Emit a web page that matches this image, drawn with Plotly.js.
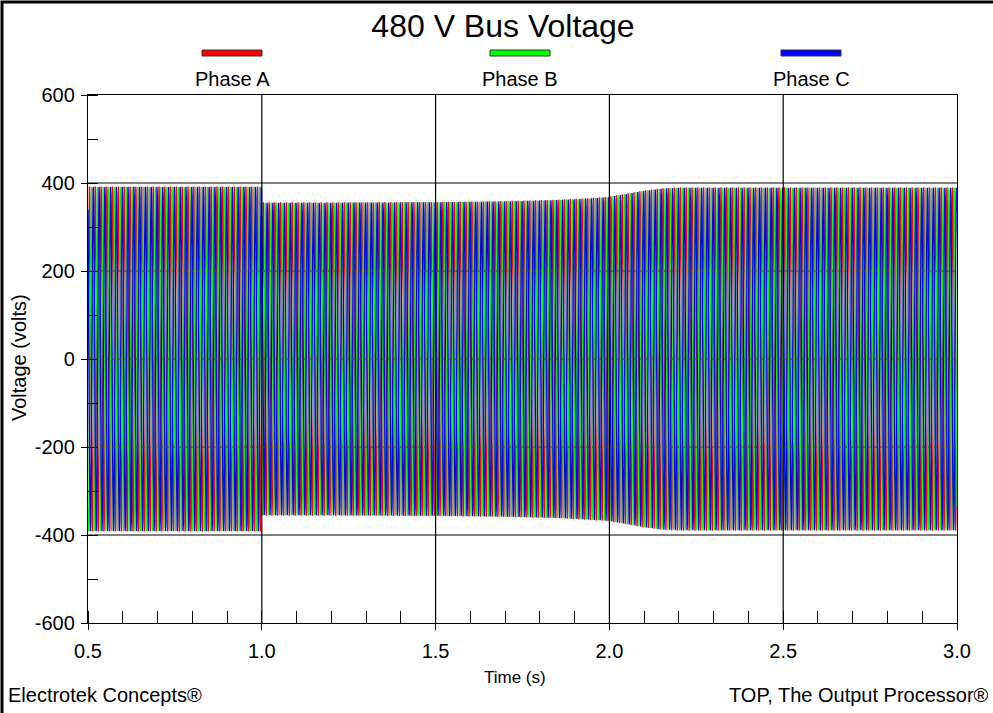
<!DOCTYPE html>
<html>
<head>
<meta charset="utf-8">
<script src="https://cdn.plot.ly/plotly-3.0.1.min.js"></script>
<style>html,body{margin:0;padding:0;background:#fff;}#chart{width:993px;height:713px;}</style>
</head>
<body>
<div id="chart"></div>
<script>
// ---- data ----
const seriesNames = ["Phase A", "Phase B", "Phase C"];
const seriesColors = ["#ff0000", "#00ff00", "#0000ff"];
const phaseShiftDeg = [0, -120, 120];
const frequencyHz = 60;
// peak-voltage envelope (volts)
const envTime = [0.5, 0.999, 1.0, 1.2, 1.5, 1.7, 1.85, 1.95, 2.0, 2.05, 2.1, 2.15, 2.2, 2.5, 3.0];
const envPeak = [392, 392, 356, 356, 357, 359, 362, 366, 369, 376, 383, 388, 390, 390, 390];
const xTickLabels = ["0.5", "1.0", "1.5", "2.0", "2.5", "3.0"];
const yTickLabels = ["-600", "-400", "-200", "0", "200", "400", "600"];

const FONT = "Liberation Sans, Arial, sans-serif";
const W = 993, H = 713;
const L = 88, R = 36, T = 95, B = 90;
const PW = W - L - R, PH = H - T - B;
const px = v => (v - L) / PW;
const py = v => (H - B - v) / PH;

function envelopeAt(t) {
  for (let i = 0; i < envTime.length - 1; i++) {
    if (t >= envTime[i] && t <= envTime[i + 1]) {
      const f = (t - envTime[i]) / (envTime[i + 1] - envTime[i]);
      return envPeak[i] + f * (envPeak[i + 1] - envPeak[i]);
    }
  }
  return envPeak[envPeak.length - 1];
}

const samplesPerCycle = 32;
const t0 = envTime[0], t1 = envTime[envTime.length - 1];
const nPts = Math.round((t1 - t0) * frequencyHz * samplesPerCycle) + 1;
const traces = seriesNames.map((name, k) => {
  const x = [], y = [];
  for (let i = 0; i < nPts; i++) {
    const t = t0 + (t1 - t0) * i / (nPts - 1);
    x.push(t);
    y.push(envelopeAt(t) * Math.sin(2 * Math.PI * frequencyHz * t + phaseShiftDeg[k] * Math.PI / 180));
  }
  return { type: "scatter", mode: "lines", name, x, y,
           line: { color: seriesColors[k], width: 1.4 }, hoverinfo: "skip" };
});

const xVals = xTickLabels.map(Number);
const yVals = yTickLabels.map(Number);

const shapes = [];
// vertical grid lines
xVals.slice(1, -1).forEach(v => shapes.push({ type: "line", xref: "x", yref: "paper", x0: v, x1: v, y0: 0, y1: 1,
  line: { color: "#000", width: 1.2 }, layer: "above" }));
// horizontal grid lines
yVals.slice(1, -1).forEach(v => shapes.push({ type: "line", xref: "paper", yref: "y", x0: 0, x1: 1, y0: v, y1: v,
  line: { color: Math.abs(v) === 400 ? "#000" : "#444", width: Math.abs(v) === 400 ? 1.2 : 1, dash: Math.abs(v) === 400 ? "solid" : "dot" }, layer: "above" }));
// outer frame (left & top visible)
shapes.push({ type: "rect", xref: "paper", yref: "paper", x0: px(2), x1: px(1010), y0: py(730), y1: py(2),
  line: { color: "#000", width: 3 }, fillcolor: "rgba(0,0,0,0)", layer: "above" });

const annotations = [];
const legendCenters = [232, 520, 811];
seriesNames.forEach((n, k) => {
  const c = legendCenters[k];
  shapes.push({ type: "rect", xref: "paper", yref: "paper", x0: px(c - 30), x1: px(c + 30), y0: py(56), y1: py(50),
    line: { color: "#333", width: 1 }, fillcolor: seriesColors[k], layer: "above" });
  annotations.push({ xref: "paper", yref: "paper", x: px(c), y: py(79), text: n, showarrow: false,
    xanchor: "center", yanchor: "middle", font: { family: FONT, size: 20, color: "#000" } });
});
annotations.push({ xref: "paper", yref: "paper", x: px(6), y: py(695), text: "Electrotek Concepts®", showarrow: false,
  xanchor: "left", yanchor: "middle", font: { family: FONT, size: 20, color: "#000" } });
annotations.push({ xref: "paper", yref: "paper", x: px(991), y: py(695), text: "TOP, The Output Processor®", showarrow: false,
  xanchor: "right", yanchor: "middle", font: { family: FONT, size: 20, color: "#000" } });
// axis titles
annotations.push({ xref: "paper", yref: "paper", x: px(515), y: py(677), text: "Time (s)", showarrow: false,
  xanchor: "center", yanchor: "middle", font: { family: FONT, size: 17, color: "#000" } });
annotations.push({ xref: "paper", yref: "paper", x: px(19), y: py(358), text: "Voltage (volts)", showarrow: false,
  textangle: -90, xanchor: "center", yanchor: "middle", font: { family: FONT, size: 20, color: "#000" } });

const layout = {
  width: W, height: H,
  margin: { l: L, r: R, t: T, b: B, pad: 0 },
  paper_bgcolor: "#fff", plot_bgcolor: "#fff",
  showlegend: false,
  font: { family: FONT, size: 20, color: "#000" },
  title: { text: "480 V Bus Voltage", font: { family: FONT, size: 32, color: "#000" },
           xref: "container", x: 503 / W, xanchor: "center", yref: "container", y: 1 - 26 / H, yanchor: "middle" },
  xaxis: {
    range: [t0, t1], tickvals: xVals, ticktext: xTickLabels,
    ticks: "outside", ticklen: 6, tickcolor: "#000", tickwidth: 1,
    showline: true, mirror: true, linecolor: "#000", linewidth: 1.2,
    showgrid: false, zeroline: false, ticklabelstandoff: 4,
    minor: { dtick: 0.1, ticks: "inside", ticklen: 12, tickcolor: "#000", tickwidth: 1, showgrid: false },
    tickfont: { family: FONT, size: 20 }
  },
  yaxis: {
    range: [-600, 600], tickvals: yVals, ticktext: yTickLabels,
    ticks: "outside", ticklen: 6, tickcolor: "#000", tickwidth: 1,
    showline: true, mirror: true, linecolor: "#000", linewidth: 1.2,
    showgrid: false, zeroline: false, ticklabelstandoff: 2,
    minor: { dtick: 100, ticks: "inside", ticklen: 10, tickcolor: "#000", tickwidth: 1, showgrid: false },
    tickfont: { family: FONT, size: 20 }
  },
  shapes, annotations
};

Plotly.newPlot("chart", traces, layout, { staticPlot: true, displayModeBar: false });
</script>
</body>
</html>
